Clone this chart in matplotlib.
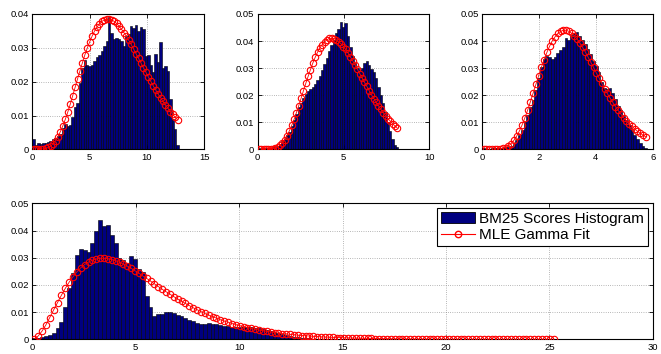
import matplotlib
matplotlib.use('Agg')
import matplotlib.pyplot as plt
import matplotlib.ticker
import numpy as np

plt.rcParams['font.family'] = ['Liberation Sans', 'DejaVu Sans']

BAR_COLOR = '#000080'
FIT_COLOR = 'red'

# histogram ranges (score min/max) per panel
range_a = (0.0, 12.8)
range_b = (0.0, 8.2)
range_c = (0.0, 5.8)
range_d = (0.0, 25.3)

hist_a = [
    0.0030, 0.0012, 0.0018, 0.0017, 0.0018, 0.0020, 0.0022, 0.0025, 0.0030, 0.0035,
    0.0040, 0.0045, 0.0062, 0.0075, 0.0070, 0.0072, 0.0095, 0.0125, 0.0138, 0.0195,
    0.0240, 0.0265, 0.0248, 0.0245, 0.0250, 0.0262, 0.0272, 0.0280, 0.0290, 0.0305,
    0.0320, 0.0390, 0.0345, 0.0325, 0.0330, 0.0326, 0.0320, 0.0305, 0.0335, 0.0340,
    0.0365, 0.0360, 0.0368, 0.0350, 0.0362, 0.0355, 0.0275, 0.0280, 0.0250, 0.0228,
    0.0282, 0.0258, 0.0318, 0.0240, 0.0245, 0.0232, 0.0150, 0.0090, 0.0060, 0.0012,
]
fit_a = [
    0.0, 0.0, 0.0, 0.0, 0.0001, 0.0003, 0.0006, 0.0010, 0.0017, 0.0026,
    0.0038, 0.0053, 0.0070, 0.0089, 0.0110, 0.0133, 0.0158, 0.0183, 0.0208, 0.0232,
    0.0256, 0.0279, 0.0299, 0.0318, 0.0335, 0.0350, 0.0362, 0.0371, 0.0378, 0.0383,
    0.0385, 0.0385, 0.0383, 0.0378, 0.0372, 0.0364, 0.0355, 0.0345, 0.0334, 0.0322,
    0.0310, 0.0296, 0.0282, 0.0269, 0.0255, 0.0241, 0.0228, 0.0214, 0.0201, 0.0188,
    0.0176, 0.0164, 0.0153, 0.0142, 0.0131, 0.0122, 0.0112, 0.0104, 0.0095, 0.0088,
]

hist_b = [
    0.0004, 0.0003, 0.0004, 0.0005, 0.0006, 0.0007, 0.0009, 0.0011, 0.0014, 0.0020,
    0.0030, 0.0040, 0.0052, 0.0065, 0.0085, 0.0108, 0.0130, 0.0155, 0.0172, 0.0190,
    0.0205, 0.0215, 0.0222, 0.0232, 0.0242, 0.0255, 0.0272, 0.0292, 0.0315, 0.0338,
    0.0362, 0.0385, 0.0405, 0.0428, 0.0445, 0.0472, 0.0452, 0.0465, 0.0420, 0.0380,
    0.0345, 0.0318, 0.0302, 0.0292, 0.0300, 0.0318, 0.0325, 0.0312, 0.0298, 0.0285,
    0.0262, 0.0230, 0.0200, 0.0172, 0.0140, 0.0100, 0.0068, 0.0040, 0.0018, 0.0008,
]
fit_b = [
    0.0, 0.0, 0.0, 0.0, 0.0, 0.0001, 0.0003, 0.0005, 0.0010, 0.0016,
    0.0025, 0.0036, 0.0051, 0.0069, 0.0089, 0.0111, 0.0136, 0.0162, 0.0189, 0.0217,
    0.0244, 0.0270, 0.0295, 0.0319, 0.0340, 0.0359, 0.0375, 0.0387, 0.0398, 0.0405,
    0.0410, 0.0410, 0.0409, 0.0405, 0.0398, 0.0390, 0.0380, 0.0369, 0.0356, 0.0342,
    0.0327, 0.0312, 0.0296, 0.0280, 0.0264, 0.0248, 0.0233, 0.0217, 0.0202, 0.0188,
    0.0174, 0.0161, 0.0148, 0.0136, 0.0125, 0.0114, 0.0105, 0.0095, 0.0087, 0.0079,
]

hist_c = [
    0.0004, 0.0003, 0.0003, 0.0004, 0.0004, 0.0005, 0.0006, 0.0007, 0.0008, 0.0010,
    0.0013, 0.0022, 0.0035, 0.0052, 0.0072, 0.0100, 0.0128, 0.0155, 0.0183, 0.0220,
    0.0262, 0.0305, 0.0335, 0.0345, 0.0340, 0.0333, 0.0340, 0.0355, 0.0367, 0.0380,
    0.0412, 0.0405, 0.0423, 0.0429, 0.0435, 0.0420, 0.0405, 0.0388, 0.0370, 0.0352,
    0.0328, 0.0308, 0.0285, 0.0250, 0.0228, 0.0222, 0.0226, 0.0210, 0.0188, 0.0162,
    0.0145, 0.0125, 0.0108, 0.0090, 0.0072, 0.0055, 0.0040, 0.0025, 0.0012, 0.0006,
]
fit_c = [
    0.0, 0.0, 0.0, 0.0, 0.0, 0.0001, 0.0002, 0.0004, 0.0007, 0.0013,
    0.0022, 0.0034, 0.0049, 0.0068, 0.0091, 0.0117, 0.0145, 0.0176, 0.0208, 0.0240,
    0.0272, 0.0303, 0.0332, 0.0358, 0.0381, 0.0401, 0.0416, 0.0428, 0.0436, 0.0440,
    0.0440, 0.0436, 0.0429, 0.0420, 0.0408, 0.0393, 0.0377, 0.0360, 0.0341, 0.0322,
    0.0303, 0.0283, 0.0264, 0.0244, 0.0225, 0.0207, 0.0190, 0.0174, 0.0158, 0.0144,
    0.0130, 0.0117, 0.0105, 0.0095, 0.0085, 0.0076, 0.0067, 0.0060, 0.0053, 0.0047,
]

hist_d = [
    0.0003, 0.0005, 0.0009, 0.0013, 0.0017, 0.0024, 0.0040, 0.0065, 0.0120, 0.0190,
    0.0245, 0.0310, 0.0333, 0.0328, 0.0322, 0.0355, 0.0400, 0.0438, 0.0415, 0.0420,
    0.0385, 0.0355, 0.0300, 0.0290, 0.0280, 0.0305, 0.0295, 0.0260, 0.0248, 0.0160,
    0.0120, 0.0085, 0.0093, 0.0093, 0.0100, 0.0102, 0.0095, 0.0088, 0.0085, 0.0080,
    0.0072, 0.0066, 0.0060, 0.0057, 0.0058, 0.0060, 0.0058, 0.0055, 0.0052, 0.0050,
    0.0048, 0.0046, 0.0045, 0.0046, 0.0047, 0.0045, 0.0044, 0.0043, 0.0041, 0.0038,
    0.0035, 0.0031, 0.0027, 0.0023, 0.0019, 0.0016, 0.0013, 0.0010, 0.0007, 0.0005,
    0.0004, 0.0003, 0.0002, 0.0002, 0.0001, 0.0001, 0.0001, 0.0, 0.0, 0.0,
    0.0, 0.0, 0.0, 0.0, 0.0, 0.0, 0.0, 0.0, 0.0, 0.0,
    0.0, 0.0, 0.0, 0.0, 0.0, 0.0, 0.0, 0.0, 0.0, 0.0,
    0.0, 0.0, 0.0, 0.0, 0.0, 0.0, 0.0, 0.0, 0.0, 0.0,
    0.0, 0.0, 0.0, 0.0, 0.0, 0.0, 0.0, 0.0, 0.0, 0.0,
    0.0, 0.0, 0.0, 0.0, 0.0, 0.0, 0.0, 0.0, 0.0, 0.0,
    0.0, 0.0, 0.0, 0.0, 0.0,
]
fit_d = [
    0.0001, 0.0012, 0.0030, 0.0053, 0.0080, 0.0108, 0.0135, 0.0162, 0.0187, 0.0210,
    0.0230, 0.0248, 0.0263, 0.0275, 0.0284, 0.0291, 0.0295, 0.0298, 0.0298, 0.0296,
    0.0293, 0.0289, 0.0283, 0.0277, 0.0269, 0.0261, 0.0252, 0.0243, 0.0233, 0.0224,
    0.0214, 0.0204, 0.0194, 0.0184, 0.0175, 0.0166, 0.0157, 0.0148, 0.0140, 0.0132,
    0.0124, 0.0116, 0.0109, 0.0102, 0.0095, 0.0089, 0.0083, 0.0078, 0.0072, 0.0067,
    0.0063, 0.0058, 0.0054, 0.0050, 0.0047, 0.0043, 0.0040, 0.0037, 0.0034, 0.0032,
    0.0029, 0.0027, 0.0025, 0.0023, 0.0021, 0.0020, 0.0018, 0.0017, 0.0015, 0.0014,
    0.0013, 0.0012, 0.0011, 0.0010, 0.0009, 0.00085, 0.00078, 0.00072, 0.00066, 0.0006,
    0.00055, 0.0005, 0.00046, 0.00042, 0.00039, 0.00035, 0.00032, 0.0003, 0.00027, 0.00025,
    0.00023, 0.00021, 0.00019, 0.00017, 0.00016, 0.00014, 0.00013, 0.00012, 0.00011, 0.0001,
    0.00009, 0.00008, 0.00008, 0.00007, 0.00006, 0.00006, 0.00005, 0.00005, 0.00004, 0.00004,
    0.00004, 0.00003, 0.00003, 0.00003, 0.00003, 0.00003, 0.00002, 0.00002, 0.00002, 0.00002,
    0.00002, 0.00002, 0.00002, 0.00002, 0.00001, 0.00001, 0.00001, 0.00001, 0.00001, 0.00001,
    0.00001, 0.00001, 0.00001, 0.00001, 0.00001,
]


def bin_centers(rng, n):
    edges = np.linspace(rng[0], rng[1], n + 1)
    return (edges[:-1] + edges[1:]) / 2, edges[1] - edges[0]


def draw_panel(ax, rng, hist, fit, xlim, xticks, ylim, yticks):
    centers, width = bin_centers(rng, len(hist))
    ax.bar(centers, hist, width=width, color=BAR_COLOR, edgecolor='black',
           linewidth=0.4, zorder=2)
    ax.plot(centers, fit, '-o', color=FIT_COLOR, linewidth=0.6, markersize=4.6,
            markerfacecolor='none', markeredgewidth=0.8, zorder=3)
    ax.set_xlim(xlim)
    ax.set_ylim(ylim)
    ax.set_xticks(xticks)
    ax.set_yticks(yticks)
    ax.yaxis.set_major_formatter(matplotlib.ticker.FormatStrFormatter('%g'))
    ax.grid(True, color='#777777', linestyle=(0, (1, 2.2)), linewidth=0.5, zorder=0)
    ax.set_axisbelow(True)
    ax.tick_params(direction='in', length=3, width=0.6, top=True, right=True,
                   labelsize=6.8, pad=2.5)
    for sp in ax.spines.values():
        sp.set_linewidth(0.8)


fig = plt.figure(figsize=(6.61, 3.54), dpi=100)
ax1 = fig.add_axes([0.0489, 0.5777, 0.2598, 0.3828])
ax2 = fig.add_axes([0.3899, 0.5777, 0.2596, 0.3828])
ax3 = fig.add_axes([0.7297, 0.5777, 0.2578, 0.3828])
ax4 = fig.add_axes([0.0489, 0.0415, 0.9386, 0.3842])

ylev4 = [0, 0.01, 0.02, 0.03, 0.04]
ylev5 = [0, 0.01, 0.02, 0.03, 0.04, 0.05]
draw_panel(ax1, range_a, hist_a, fit_a, (0, 15), [0, 5, 10, 15], (0, 0.04), ylev4)
draw_panel(ax2, range_b, hist_b, fit_b, (0, 10), [0, 5, 10], (0, 0.05), ylev5)
draw_panel(ax3, range_c, hist_c, fit_c, (0, 6), [0, 2, 4, 6], (0, 0.05), ylev5)
draw_panel(ax4, range_d, hist_d, fit_d, (0, 30), [0, 5, 10, 15, 20, 25, 30],
           (0, 0.05), ylev5)

handles = [
    matplotlib.patches.Rectangle((0, 0), 1, 1, facecolor=BAR_COLOR, edgecolor='black',
                                 linewidth=0.6),
    matplotlib.lines.Line2D([], [], color=FIT_COLOR, marker='o', linewidth=0.8,
                            markersize=4.6, markerfacecolor='none'),
]
leg = ax4.legend(handles, ['BM25 Scores Histogram', 'MLE Gamma Fit'],
                 loc='upper right', fontsize=11, fancybox=False, framealpha=1,
                 edgecolor='black', borderpad=0.25, labelspacing=0.15,
                 handlelength=2.2, handletextpad=0.3, borderaxespad=0.3)
leg.get_frame().set_linewidth(0.8)

fig.savefig('out.png', dpi=100)
